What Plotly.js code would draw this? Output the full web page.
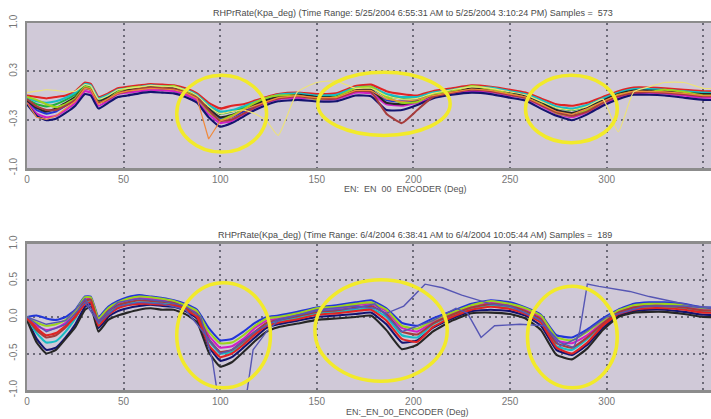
<!DOCTYPE html>
<html>
<head>
<meta charset="utf-8">
<script src="https://cdn.plot.ly/plotly-3.0.1.min.js"></script>
<style>html,body{margin:0;padding:0;background:#fff;}#chart{width:711px;height:419px;}</style>
</head>
<body>
<div id="chart"></div>
<script>
// Shared encoder angles (deg)
const angles = [0,5,10,15,20,25,30,33,37,42,47,52,58,64,70,76,82,88,94,100,106,112,118,124,130,140,150,160,170,178,186,194,202,210,220,230,240,250,258,266,274,282,290,298,306,314,322,330,340,350,360];

// ---- Top panel (5/25/2004, 573 samples): representative curves ----
const top1 = [0.0,-0.02,-0.04,-0.02,0.0,0.06, 0.18,0.16,-0.02,0.03,0.1,0.12, 0.14,0.16,0.15,0.14,0.1,0.03, -0.1,-0.18,-0.14,-0.12,-0.07,-0.02, 0.02,0.04,0.02,0.03,0.13,0.15, 0.06,0.02,0.0,0.06,0.1,0.14, 0.12,0.08,0.04,-0.04,-0.12,-0.14, -0.1,-0.02,0.06,0.11,0.11,0.1, 0.08,0.06,0.06];
const top2 = [-0.05,-0.12,-0.15,-0.12,-0.06,0.02, 0.14,0.12,-0.06,-0.01,0.07,0.09, 0.11,0.13,0.12,0.11,0.07,0.0, -0.15,-0.25,-0.22,-0.17,-0.11,-0.05, 0.0,0.02,-0.01,0.0,0.1,0.1, 0.0,-0.04,-0.04,0.03,0.07,0.11, 0.1,0.05,0.01,-0.08,-0.17,-0.2, -0.15,-0.06,0.03,0.08,0.08,0.07, 0.05,0.03,0.03];
const top3 = [-0.08,-0.2,-0.25,-0.22,-0.14,-0.05, 0.1,0.08,-0.1,-0.04,0.04,0.07, 0.09,0.1,0.09,0.08,0.04,-0.04, -0.2,-0.32,-0.3,-0.22,-0.14,-0.08, -0.03,0.0,-0.03,-0.03,0.07,0.07, -0.06,-0.08,-0.07,0.0,0.05,0.09, 0.07,0.03,-0.02,-0.11,-0.21,-0.25, -0.19,-0.09,0.0,0.06,0.06,0.05, 0.03,0.0,0.0];
const top4 = [-0.1,-0.25,-0.3,-0.28,-0.2,-0.1, 0.06,0.04,-0.14,-0.07,0.02,0.04, 0.06,0.08,0.07,0.06,0.01,-0.07, -0.25,-0.38,-0.35,-0.26,-0.17,-0.1, -0.05,-0.03,-0.05,-0.05,0.04,0.03, -0.12,-0.14,-0.1,-0.02,0.03,0.06, 0.05,0.0,-0.04,-0.14,-0.25,-0.3, -0.23,-0.12,-0.03,0.03,0.04,0.03, 0.0,-0.03,-0.03];
const top5 = [-0.12,-0.28,-0.34,-0.32,-0.24,-0.14, 0.02,0.0,-0.18,-0.1,-0.02,0.0, 0.03,0.05,0.04,0.03,-0.02,-0.1, -0.3,-0.43,-0.38,-0.29,-0.2,-0.13, -0.08,-0.06,-0.08,-0.08,0.0,-0.01, -0.2,-0.2,-0.13,-0.04,0.01,0.04, 0.02,-0.03,-0.07,-0.18,-0.28,-0.34, -0.26,-0.14,-0.05,0.01,0.01,0.0, -0.03,-0.06,-0.06];
const top6 = [-0.03,-0.08,-0.1,-0.08,-0.03,0.04, 0.16,0.14,-0.04,0.01,0.08,0.1, 0.12,0.14,0.13,0.12,0.08,0.01, -0.13,-0.22,-0.2,-0.15,-0.09,-0.04, 0.01,0.03,0.0,0.01,0.11,0.12, 0.02,-0.02,-0.02,0.04,0.08,0.12, 0.11,0.06,0.02,-0.06,-0.15,-0.18, -0.13,-0.04,0.04,0.09,0.09,0.08, 0.06,0.04,0.04];
const top7 = [-0.07,-0.17,-0.22,-0.18,-0.1,-0.02, 0.12,0.1,-0.08,-0.03,0.05,0.08, 0.1,0.12,0.11,0.1,0.05,-0.02, -0.18,-0.3,-0.27,-0.2,-0.12,-0.06, -0.02,0.01,-0.02,-0.02,0.08,0.08, -0.1,-0.12,-0.08,0.01,0.06,0.1, 0.08,0.04,0.0,-0.1,-0.2,-0.24, -0.17,-0.07,0.02,0.07,0.07,0.06, 0.04,0.02,0.02];
const top8 = [-0.02,-0.06,-0.12,-0.16,-0.12,-0.04, 0.12,0.1,-0.1,-0.05,0.05,0.1, 0.12,0.11,0.12,0.13,0.06,-0.03, -0.22,-0.34,-0.28,-0.19,-0.1,-0.03, 0.0,0.0,-0.05,-0.02,0.1,0.12, -0.02,-0.1,-0.09,0.02,0.06,0.13, 0.09,0.02,-0.03,-0.12,-0.24,-0.28, -0.2,-0.1,0.01,0.05,0.05,0.08, 0.05,0.0,0.0];
const top9 = [-0.05,-0.15,-0.2,-0.2,-0.14,-0.06, 0.1,0.08,-0.1,-0.05,0.03,0.06, 0.09,0.11,0.1,0.09,0.04,-0.03, -0.2,-0.35,-0.33,-0.25,-0.16,-0.09, -0.04,-0.01,-0.04,-0.04,0.06,0.05, -0.25,-0.38,-0.2,-0.02,0.04,0.08, 0.06,0.01,-0.03,-0.13,-0.23,-0.28, -0.22,-0.1,-0.01,0.04,0.05,0.04, 0.02,-0.01,-0.01];
const topOrange = [-0.1,-0.3,-0.33,-0.28,-0.18,-0.08, 0.1,0.08,-0.12,-0.05,0.03,0.06, 0.08,0.1,0.09,0.08,0.04,-0.04, -0.6,-0.35,-0.3,-0.2,-0.14,-0.08, -0.03,0.0,-0.03,-0.03,0.07,0.07, -0.05,-0.08,-0.06,0.0,0.05,0.09, 0.07,0.02,-0.02,-0.12,-0.22,-0.26, -0.18,-0.08,0.01,0.06,0.06,0.05, 0.03,0.0,0.0];
const topYellow = [0.04,0.06,0.08,0.07,0.05,0.06, 0.15,0.13,-0.05,0.0,0.08,0.1, 0.12,0.14,0.13,0.12,0.08,0.0, -0.15,-0.25,-0.22,-0.2,-0.25,-0.35, -0.55,0.05,0.18,0.2,0.1,0.1, 0.0,-0.05,-0.04,0.03,0.08,0.12, 0.1,0.05,0.01,-0.08,-0.17,-0.2, -0.15,-0.05,-0.5,0.05,0.12,0.18, 0.18,0.1,0.1];

// ---- Bottom panel (6/4/2004, 189 samples): representative curves ----
const bot1 = [0.0,0.02,-0.02,-0.04,0.0,0.1, 0.28,0.28,0.0,0.14,0.22,0.27, 0.3,0.28,0.26,0.23,0.18,0.1, -0.15,-0.32,-0.3,-0.2,-0.08,0.0, 0.02,0.07,0.13,0.16,0.2,0.23, 0.12,-0.08,-0.12,-0.02,0.08,0.18, 0.23,0.2,0.13,0.03,-0.25,-0.28, -0.17,-0.02,0.1,0.18,0.2,0.2, 0.18,0.13,0.13];
const bot2 = [-0.02,-0.12,-0.18,-0.15,-0.08,0.06, 0.25,0.25,-0.04,0.1,0.19,0.23, 0.26,0.25,0.23,0.2,0.14,0.06, -0.25,-0.42,-0.4,-0.3,-0.15,-0.05, -0.02,0.04,0.1,0.12,0.16,0.18, 0.08,-0.15,-0.2,-0.07,0.05,0.15, 0.2,0.17,0.1,0.0,-0.32,-0.36, -0.25,-0.07,0.07,0.15,0.16,0.17, 0.15,0.1,0.1];
const bot3 = [-0.03,-0.3,-0.45,-0.42,-0.28,-0.1, 0.14,0.18,-0.15,0.0,0.08,0.12, 0.15,0.17,0.15,0.14,0.08,-0.02, -0.4,-0.6,-0.55,-0.42,-0.28,-0.15, -0.1,-0.05,0.0,0.02,0.04,0.06, -0.1,-0.35,-0.32,-0.15,-0.02,0.08, 0.1,0.08,0.02,-0.12,-0.45,-0.52, -0.38,-0.15,0.02,0.08,0.1,0.1, 0.07,0.03,0.03];
const bot4 = [-0.02,-0.22,-0.35,-0.33,-0.2,-0.02, 0.2,0.22,-0.1,0.05,0.14,0.18, 0.2,0.2,0.19,0.17,0.11,0.02, -0.32,-0.5,-0.48,-0.36,-0.22,-0.1, -0.06,-0.01,0.05,0.07,0.1,0.12, 0.0,-0.25,-0.28,-0.1,0.02,0.12, 0.16,0.13,0.06,-0.05,-0.4,-0.45, -0.3,-0.1,0.05,0.12,0.14,0.14, 0.12,0.08,0.08];
const bot5 = [-0.04,-0.35,-0.5,-0.45,-0.3,-0.14, 0.1,0.14,-0.2,-0.04,0.02,0.06, 0.1,0.12,0.1,0.1,0.04,-0.07, -0.48,-0.68,-0.62,-0.48,-0.33,-0.2, -0.14,-0.09,-0.04,-0.02,0.0,0.02, -0.18,-0.44,-0.38,-0.2,-0.05,0.05, 0.06,0.04,-0.02,-0.18,-0.52,-0.58, -0.43,-0.18,0.0,0.06,0.07,0.07, 0.04,0.0,0.0];
const bot6 = [0.0,-0.08,-0.12,-0.1,-0.04,0.08, 0.27,0.27,-0.02,0.12,0.2,0.25, 0.28,0.27,0.25,0.22,0.16,0.08, -0.2,-0.36,-0.35,-0.25,-0.12,-0.02, 0.0,0.05,0.12,0.14,0.18,0.2, 0.1,-0.12,-0.16,-0.05,0.06,0.16, 0.22,0.18,0.12,0.02,-0.28,-0.32, -0.2,-0.05,0.09,0.16,0.18,0.18, 0.16,0.12,0.12];
const bot7 = [-0.02,-0.18,-0.28,-0.25,-0.14,0.02, 0.22,0.24,-0.07,0.08,0.16,0.2, 0.23,0.22,0.21,0.19,0.12,0.04, -0.3,-0.48,-0.45,-0.33,-0.2,-0.08, -0.04,0.01,0.07,0.09,0.13,0.15, 0.04,-0.2,-0.24,-0.09,0.03,0.13, 0.18,0.15,0.08,-0.03,-0.36,-0.42, -0.28,-0.09,0.06,0.13,0.15,0.15, 0.13,0.09,0.09];
const bot8 = [-0.01,-0.15,-0.25,-0.22,-0.12,0.0, 0.18,0.2,-0.12,0.03,0.12,0.16, 0.18,0.18,0.17,0.16,0.1,0.0, -0.38,-0.55,-0.5,-0.38,-0.24,-0.12, -0.08,-0.03,0.03,0.05,0.08,0.1, -0.05,-0.3,-0.34,-0.14,0.0,0.1, 0.14,0.11,0.04,-0.08,-0.42,-0.5, -0.35,-0.12,0.04,0.1,0.12,0.12, 0.1,0.06,0.06];

// Bottom outliers (slate blue)
const outA_x = [0,10,20,30,37,47,58,70,82,90,94,96,100,110,114,117,124,130,150,170,180,186,195,206,215,225,240,250,266,276,284,300,320,340,360];
const outA_y = [0,-0.1,-0.05,0.25,-0.05,0.2,0.25,0.22,0.15,0.0,-0.4,-0.6,-1.3,-1.3,-1.0,-0.45,-0.2,-0.05,0.1,0.15,0.12,0.05,0.15,0.45,0.4,0.3,0.18,0.15,-0.05,-0.4,-0.3,0.0,0.15,0.15,0.1];
const outB_x = [0,10,20,30,37,47,58,70,82,94,100,106,118,130,150,170,180,194,210,222,228,235,242,255,268,276,283,286,290,296,304,312,322,332,345,360];
const outB_y = [0,-0.2,-0.1,0.2,-0.08,0.15,0.2,0.18,0.1,-0.3,-0.5,-0.45,-0.2,-0.03,0.08,0.12,0.18,-0.2,-0.05,0.12,0.05,-0.28,-0.12,-0.1,-0.12,-0.35,-0.42,-0.2,0.45,0.42,0.38,0.35,0.28,0.22,0.15,0.12];

const topSeries = [top1, top2, top3, top4, top5, top6, top7, top8, top9];
const botSeries = [bot1, bot2, bot3, bot4, bot5, bot6, bot7, bot8];
const palette = ['#e02424','#1fae3c','#2236d8','#d020c4','#141470','#18bcc4','#262626','#9cd21e','#a63c3c'];

const topTitle = 'RHPrRate(Kpa_deg) (Time Range: 5/25/2004 6:55:31 AM to 5/25/2004 3:10:24 PM) Samples =  573';
const botTitle = 'RHPrRate(Kpa_deg) (Time Range: 6/4/2004 6:38:41 AM to 6/4/2004 10:05:44 AM) Samples =  189';
const topXTitle = 'EN:  EN  00  ENCODER (Deg)';
const botXTitle = 'EN:_EN_00_ENCODER (Deg)';
const topTickVals = [-1, -1/3, 1/3, 1];
const topTickText = ['-1.0', '-0.3', '0.3', '1.0'];
const botTickVals = [-1, -0.5, 0, 0.5, 1];
const botTickText = ['-1.0', '-0.5', '0.0', '0.5', '1.0'];
const xTickVals = [0, 50, 100, 150, 200, 250, 300, 350];

// Ellipses [x0, x1, y0, y1] in data units
const topRings = [[77.5,124,-0.78,0.28],[150.5,219,-0.55,0.32],[258,305.5,-0.65,0.28]];
const botRings = [[77.5,126,-0.97,0.47],[149,217.5,-0.88,0.51],[259,305.5,-0.97,0.42]];

const traces = [];
topSeries.forEach((s, i) => traces.push({x: angles, y: s, xaxis: 'x', yaxis: 'y', type: 'scatter', mode: 'lines',
  line: {color: palette[i % palette.length], width: 2.1, shape: 'spline', smoothing: 0.4}, hoverinfo: 'skip'}));
traces.push({x: angles, y: topOrange, xaxis: 'x', yaxis: 'y', mode: 'lines', line: {color: '#f08a3c', width: 1.2}, hoverinfo: 'skip'});
traces.push({x: angles, y: topYellow, xaxis: 'x', yaxis: 'y', mode: 'lines', line: {color: '#ece27a', width: 1.2, shape: 'spline', smoothing: 0.5}, hoverinfo: 'skip'});
botSeries.forEach((s, i) => traces.push({x: angles, y: s, xaxis: 'x2', yaxis: 'y2', type: 'scatter', mode: 'lines',
  line: {color: palette[(i + 2) % palette.length], width: 2.1, shape: 'spline', smoothing: 0.4}, hoverinfo: 'skip'}));
traces.push({x: outA_x, y: outA_y, xaxis: 'x2', yaxis: 'y2', mode: 'lines', line: {color: '#5656b4', width: 1.4}, hoverinfo: 'skip'});
traces.push({x: outB_x, y: outB_y, xaxis: 'x2', yaxis: 'y2', mode: 'lines', line: {color: '#5656b4', width: 1.4}, hoverinfo: 'skip'});

const shapes = [];
topRings.forEach(r => shapes.push({type: 'circle', xref: 'x', yref: 'y', x0: r[0], x1: r[1], y0: r[2], y1: r[3], line: {color: '#f2ea2a', width: 3.5}}));
botRings.forEach(r => shapes.push({type: 'circle', xref: 'x2', yref: 'y2', x0: r[0], x1: r[1], y0: r[2], y1: r[3], line: {color: '#f2ea2a', width: 3.5}}));

const tickFont = {family: 'Liberation Sans, Arial, sans-serif', size: 10, color: '#777'};
function xAxis(anchor) {
  return {anchor: anchor, range: [0, 354], tickvals: xTickVals, ticks: '', tickfont: tickFont,
    showgrid: true, gridcolor: '#6c6a78', gridwidth: 2, griddash: '2px,4px',
    showline: true, linecolor: '#8c8c8c', linewidth: 2.5, mirror: true, zeroline: false, fixedrange: true};
}
function yAxis(anchor, dom, vals, text) {
  return {anchor: anchor, domain: dom, range: [-1, 1], tickvals: vals, ticktext: text, ticks: '', tickangle: -90,
    tickfont: tickFont, ticklabelstandoff: 4,
    showgrid: true, gridcolor: '#6c6a78', gridwidth: 2, griddash: '2px,4px',
    showline: true, linecolor: '#8c8c8c', linewidth: 2.5, mirror: false, zeroline: false, fixedrange: true};
}

const annFont = {family: 'Liberation Sans, Arial, sans-serif', size: 9, color: '#4a4a4a'};
const axTitleFont = {family: 'Liberation Sans, Arial, sans-serif', size: 9, color: '#555'};
const layout = {
  width: 711, height: 419,
  margin: {l: 27, r: 0, t: 0, b: 0},
  paper_bgcolor: '#ffffff', plot_bgcolor: '#d0c9d8',
  showlegend: false,
  xaxis: Object.assign(xAxis('y'), {domain: [0, 1]}),
  yaxis: yAxis('x', [0.599, 0.945], topTickVals, topTickText),
  xaxis2: Object.assign(xAxis('y2'), {domain: [0, 1]}),
  yaxis2: yAxis('x2', [0.0692, 0.4177], botTickVals, botTickText),
  shapes: shapes,
  annotations: [
    {text: topTitle, xref: 'paper', yref: 'paper', x: 0.564, y: 0.969, showarrow: false, font: annFont, xanchor: 'center', yanchor: 'middle'},
    {text: botTitle, xref: 'paper', yref: 'paper', x: 0.567, y: 0.439, showarrow: false, font: annFont, xanchor: 'center', yanchor: 'middle'},
    {text: topXTitle, xref: 'paper', yref: 'paper', x: 0.553, y: 0.548, showarrow: false, font: axTitleFont, xanchor: 'center', yanchor: 'middle'},
    {text: botXTitle, xref: 'paper', yref: 'paper', x: 0.556, y: 0.016, showarrow: false, font: axTitleFont, xanchor: 'center', yanchor: 'middle'}
  ]
};

Plotly.newPlot('chart', traces, layout, {displayModeBar: false, staticPlot: true});
</script>
</body>
</html>
